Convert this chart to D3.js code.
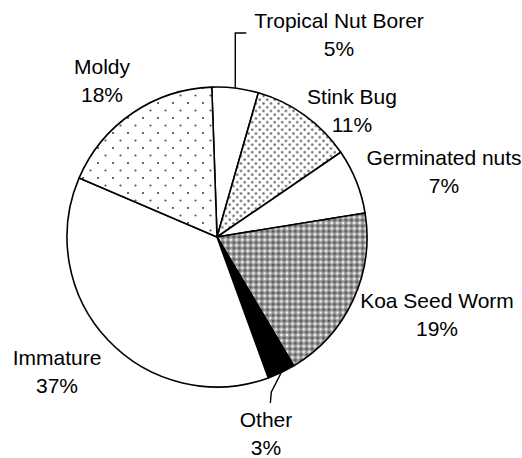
<!DOCTYPE html>
<html>
<head>
<meta charset="utf-8">
<script src="https://cdn.jsdelivr.net/npm/d3@7"></script>
<style>
html,body{margin:0;padding:0;background:#fff;}
svg{display:block;}
text{font-family:"Liberation Sans",Arial,sans-serif;font-size:21px;fill:#000;}
</style>
</head>
<body>
<svg id="chart" width="522" height="458"></svg>
<script>
// ---- data ----
const categories = ["Tropical Nut Borer","Stink Bug","Germinated nuts","Koa Seed Worm","Other","Immature","Moldy"];
const values = [5, 11, 7, 19, 3, 37, 18];
const percentLabels = ["5%","11%","7%","19%","3%","37%","18%"];

// ---- layout ----
const W = 522, H = 458;
const cx = 217, cy = 237, R = 150;
const startDeg = -2;
const fills = ["#fff","url(#dense)","#fff","url(#hatch)","#000","#fff","url(#sparse)"];
// label anchor (center x, first baseline y)
const labelPos = [[339,28],[352,104],[444,165],[437,308],[266,427],[57,365],[102,74]];
const lineGap = 28;

const svg = d3.select("#chart");
const defs = svg.append("defs");

// sparse dots
const p1 = defs.append("pattern").attr("id","sparse").attr("patternUnits","userSpaceOnUse")
  .attr("width",15).attr("height",15);
p1.append("rect").attr("width",15).attr("height",15).attr("fill","#fff");
p1.append("circle").attr("cx",1).attr("cy",1).attr("r",1.1).attr("fill","#555");
p1.append("circle").attr("cx",8.5).attr("cy",8.5).attr("r",1.1).attr("fill","#555");

// dense dots
const p2 = defs.append("pattern").attr("id","dense").attr("patternUnits","userSpaceOnUse")
  .attr("width",7.5).attr("height",7.5);
p2.append("rect").attr("width",7.5).attr("height",7.5).attr("fill","#fff");
p2.append("circle").attr("cx",1.5).attr("cy",1.5).attr("r",1.25).attr("fill","#666");
p2.append("circle").attr("cx",5.25).attr("cy",5.25).attr("r",1.25).attr("fill","#666");

// crosshatch / checker
const p3 = defs.append("pattern").attr("id","hatch").attr("patternUnits","userSpaceOnUse")
  .attr("width",5.6).attr("height",5.6);
p3.append("rect").attr("width",5.6).attr("height",5.6).attr("fill","#999");
p3.append("circle").attr("cx",0).attr("cy",0).attr("r",1.4).attr("fill","#555");
p3.append("circle").attr("cx",5.6).attr("cy",0).attr("r",1.4).attr("fill","#555");
p3.append("circle").attr("cx",0).attr("cy",5.6).attr("r",1.4).attr("fill","#555");
p3.append("circle").attr("cx",5.6).attr("cy",5.6).attr("r",1.4).attr("fill","#555");
p3.append("rect").attr("x",2.2).attr("y",1.5).attr("width",1.2).attr("height",2.6).attr("fill","#fff");
p3.append("rect").attr("x",1.5).attr("y",2.2).attr("width",2.6).attr("height",1.2).attr("fill","#fff");

const data = categories.map((c,i)=>({cat:c, value:values[i], pct:percentLabels[i], fill:fills[i], pos:labelPos[i]}));

const rad = d => d*Math.PI/180;
const pie = d3.pie().sort(null).value(d=>d.value)
  .startAngle(rad(startDeg)).endAngle(rad(startDeg)+2*Math.PI);
const arcs = pie(data);
const arc = d3.arc().innerRadius(0).outerRadius(R);

const g = svg.append("g").attr("transform",`translate(${cx},${cy})`);
g.selectAll("path.slice").data(arcs).enter().append("path")
  .attr("class","slice")
  .attr("d",arc)
  .attr("fill",d=>d.data.fill)
  .attr("stroke","#000").attr("stroke-width",1.6).attr("stroke-linejoin","round");

// leader lines (from slice's outer arc midpoint)
function outerMid(a){
  const ang = (a.startAngle+a.endAngle)/2;
  return [cx + R*Math.sin(ang), cy - R*Math.cos(ang)];
}
const tnb = outerMid(arcs[0]);
svg.append("polyline")
  .attr("points",`${tnb[0]},${tnb[1]} ${tnb[0]},33 ${tnb[0]+11},33`)
  .attr("fill","none").attr("stroke","#000").attr("stroke-width",1.4);
const oth = outerMid(arcs[4]);
svg.append("polyline")
  .attr("points",`${oth[0]},${oth[1]} ${oth[0]-10},392 ${oth[0]-11},403`)
  .attr("fill","none").attr("stroke","#000").attr("stroke-width",1.4);

// labels
const lbl = svg.append("g").selectAll("text").data(data).enter().append("text")
  .attr("text-anchor","middle")
  .attr("x",d=>d.pos[0]).attr("y",d=>d.pos[1]);
lbl.append("tspan").attr("x",d=>d.pos[0]).text(d=>d.cat);
lbl.append("tspan").attr("x",d=>d.pos[0]).attr("dy",lineGap).text(d=>d.pct);
</script>
</body>
</html>
